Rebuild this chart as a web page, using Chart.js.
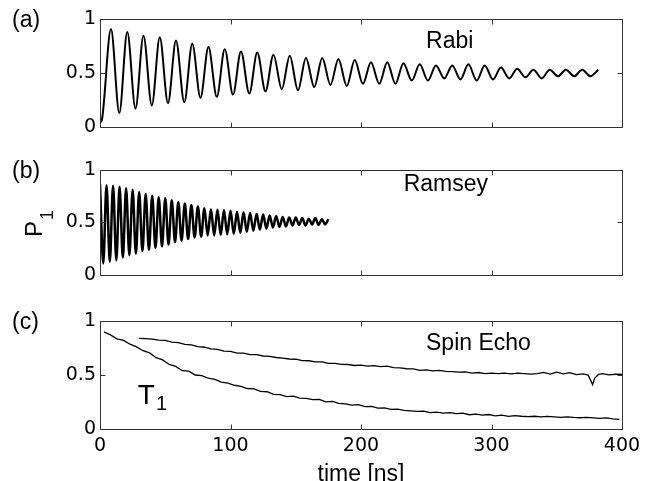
<!DOCTYPE html>
<html>
<head>
<meta charset="utf-8">
<script src="https://cdn.jsdelivr.net/npm/chart.js@4.4.1/dist/chart.umd.min.js"></script>
<style>
  body { margin: 0; background: #fff; }
  canvas { position: absolute; left: 0; }
</style>
</head>
<body>
<canvas id="rabi" width="652" height="145" style="top:0px"></canvas>
<canvas id="ramsey" width="652" height="140" style="top:150px"></canvas>
<canvas id="decay" width="652" height="191" style="top:290px"></canvas>
<script>
// axis ticks shared by the three panels
var xTicks = [0, 100, 200, 300, 400];
var yTicks = [0, 0.5, 1];

// (a) Rabi: start, then alternating maxima / minima
var rabiTime = [0, 1.5, 8.4, 14.8, 20.9, 27.2, 33.3, 39.7, 45.8, 52.1, 58.2, 64.6, 70.7, 77.0, 83.1, 89.5,
  95.6, 101.9, 108.0, 114.4, 120.5, 126.8, 132.9, 139.3, 145.4, 151.7, 157.8, 164.2, 170.3, 176.6, 182.7,
  189.1, 195.2, 201.5, 207.6, 214.0, 220.1, 226.4, 232.5, 238.9, 245.0, 251.3, 257.4, 263.8, 269.9, 276.2,
  282.3, 288.7, 294.8, 301.1, 307.2, 313.6, 319.7, 326.0, 332.1, 338.5, 344.6, 350.9, 357.0, 363.4, 369.5,
  375.8, 381.9];
var rabiP1 = [0.04, 0.07, 0.907, 0.13, 0.88, 0.17, 0.845, 0.20, 0.83, 0.22, 0.80, 0.23, 0.77, 0.27, 0.74, 0.28,
  0.72, 0.30, 0.70, 0.31, 0.69, 0.33, 0.67, 0.35, 0.66, 0.34, 0.64, 0.37, 0.64, 0.39, 0.63, 0.38, 0.62, 0.40,
  0.60, 0.40, 0.60, 0.40, 0.59, 0.43, 0.58, 0.43, 0.57, 0.45, 0.57, 0.44, 0.58, 0.43, 0.57, 0.44, 0.55, 0.45,
  0.54, 0.46, 0.53, 0.45, 0.53, 0.47, 0.53, 0.47, 0.53, 0.47, 0.53];

// (b) Ramsey fringes
var ramseyTime = [0, 2.5, 5, 7.5, 10, 12.5, 15, 17.5, 20, 22.5, 25, 27.5, 30, 32.5, 35, 37.5, 40, 42.5, 45, 47.5,
  50, 52.5, 55, 57.5, 60, 62.5, 65, 67.5, 70, 72.5, 75, 77.5, 80, 82.5, 85, 87.5, 90, 92.5, 95, 97.5, 100,
  102.5, 105, 107.5, 110, 112.5, 115, 117.5, 120, 122.5, 125, 127.5, 130, 132.5, 135, 137.5, 140, 142.5, 145,
  147.5, 150, 152.5, 155, 157.5, 160, 162.5, 165, 167.5, 170, 172.5, 175];
var ramseyP1 = [0.864, 0.107, 0.855, 0.123, 0.85, 0.138, 0.84, 0.163, 0.825, 0.185, 0.81, 0.20, 0.79, 0.225,
  0.77, 0.237, 0.755, 0.256, 0.74, 0.27, 0.73, 0.287, 0.71, 0.31, 0.695, 0.323, 0.68, 0.34, 0.665, 0.355,
  0.65, 0.365, 0.635, 0.375, 0.625, 0.375, 0.62, 0.38, 0.615, 0.385, 0.61, 0.39, 0.60, 0.40, 0.595, 0.41,
  0.59, 0.42, 0.58, 0.43, 0.575, 0.44, 0.565, 0.45, 0.56, 0.455, 0.55, 0.46, 0.545, 0.47, 0.545, 0.475,
  0.54, 0.47, 0.535, 0.48, 0.54, 0.475, 0.53, 0.48, 0.53];

// (c) T1 decay
var t1Time = [3, 8, 13, 18, 23, 28, 33, 38, 43, 48, 53, 58, 63, 68, 73, 78, 83, 88, 93, 98, 103, 108, 113, 118,
  123, 128, 133, 138, 143, 148, 153, 158, 163, 168, 173, 178, 183, 188, 193, 198, 203, 208, 213, 218, 223,
  228, 233, 238, 243, 248, 253, 258, 263, 268, 273, 278, 283, 288, 293, 298, 303, 308, 313, 318, 323, 328,
  333, 338, 343, 348, 353, 358, 363, 368, 373, 378, 383, 388, 393, 398];
var t1P1 = [0.90, 0.872, 0.835, 0.82, 0.785, 0.76, 0.725, 0.705, 0.66, 0.64,
  0.598, 0.58, 0.54, 0.535, 0.50, 0.495, 0.47, 0.46, 0.435, 0.425,
  0.405, 0.395, 0.375, 0.372, 0.348, 0.345, 0.32, 0.318, 0.30, 0.305,
  0.285, 0.283, 0.272, 0.274, 0.252, 0.255, 0.238, 0.233, 0.222, 0.226,
  0.208, 0.21, 0.193, 0.195, 0.182, 0.184, 0.172, 0.168, 0.163, 0.166,
  0.152, 0.156, 0.147, 0.152, 0.143, 0.146, 0.132, 0.138, 0.128, 0.134,
  0.122, 0.128, 0.117, 0.124, 0.118, 0.114, 0.118, 0.112, 0.117, 0.113,
  0.108, 0.113, 0.107, 0.104, 0.108, 0.103, 0.098, 0.103, 0.094, 0.09];

// (c) spin echo
var echoTime = [30, 35, 40, 45, 50, 55, 60, 65, 70, 75, 80, 85, 90, 95, 100, 105, 110, 115, 120, 125, 130,
  135, 140, 145, 150, 155, 160, 165, 170, 175, 180, 185, 190, 195, 200, 205, 210, 215, 220, 225, 230, 235,
  240, 245, 250, 255, 260, 265, 270, 275, 280, 285, 290, 295, 300, 305, 310, 315, 320, 325, 330, 335, 340,
  345, 350, 355, 360, 365, 370, 374, 376, 377.5, 379, 382, 385, 390, 395, 400];
var echoP1 = [0.84, 0.836, 0.832, 0.822, 0.82, 0.805, 0.80, 0.783, 0.778, 0.762, 0.757, 0.742, 0.738, 0.722,
  0.718, 0.703, 0.702, 0.688, 0.689, 0.676, 0.672, 0.662, 0.657, 0.648, 0.646, 0.633, 0.632, 0.622, 0.622,
  0.608, 0.607, 0.598, 0.597, 0.588, 0.592, 0.582, 0.587, 0.578, 0.582, 0.568, 0.566, 0.558, 0.557, 0.543,
  0.548, 0.538, 0.542, 0.533, 0.532, 0.527, 0.528, 0.518, 0.523, 0.513, 0.518, 0.512, 0.518, 0.51, 0.517,
  0.512, 0.508, 0.512, 0.524, 0.508, 0.526, 0.51, 0.522, 0.503, 0.51, 0.50, 0.45, 0.41, 0.47, 0.505, 0.512,
  0.502, 0.507, 0.505];

var FONT = '"Liberation Sans", Arial, sans-serif';
var TICKFONT = '"DejaVu Sans"';

function pairs(xs, ys) {
  return xs.map(function(x, i) { return {x: x, y: ys[i]}; });
}

function line(xs, ys, width, smooth) {
  return {
    data: pairs(xs, ys),
    showLine: true,
    pointRadius: 0,
    borderColor: '#000',
    borderWidth: width,
    cubicInterpolationMode: smooth ? 'monotone' : 'default',
    tension: 0
  };
}

// box, inward ticks and the text inside each panel
var framePlugin = {
  id: 'frame',
  afterDraw: function(chart, args, opts) {
    var ctx = chart.ctx, a = chart.chartArea, x = chart.scales.x, y = chart.scales.y;
    var L = Math.round(a.left) + 0.5, R = Math.round(a.right) + 0.5;
    var T = Math.round(a.top) + 0.5, B = Math.round(a.bottom) + 0.5;
    ctx.save();
    ctx.strokeStyle = '#333';
    ctx.lineWidth = 1;
    ctx.beginPath();
    ctx.rect(L, T, R - L, B - T);
    xTicks.forEach(function(v) {
      var px = Math.round(x.getPixelForValue(v)) + 0.5;
      ctx.moveTo(px, T); ctx.lineTo(px, T + 5);
      ctx.moveTo(px, B); ctx.lineTo(px, B - 5);
    });
    yTicks.forEach(function(v) {
      var py = Math.round(y.getPixelForValue(v)) + 0.5;
      ctx.moveTo(L, py); ctx.lineTo(L + 5, py);
      ctx.moveTo(R, py); ctx.lineTo(R - 5, py);
    });
    ctx.stroke();

    ctx.fillStyle = '#000';
    ctx.textAlign = 'left';
    ctx.textBaseline = 'alphabetic';
    ctx.font = '23px ' + FONT;
    ctx.fillText(opts.tag, 12, a.top + 8);

    (opts.notes || []).forEach(function(n) {
      var px = x.getPixelForValue(n.x), py = y.getPixelForValue(n.y);
      ctx.font = n.size + 'px ' + FONT;
      ctx.textAlign = n.align || 'center';
      ctx.fillText(n.text, px, py);
      if (n.sub) {
        var w = ctx.measureText(n.text).width;
        ctx.font = n.subSize + 'px ' + FONT;
        ctx.textAlign = 'left';
        ctx.fillText(n.sub, px + w + 1, py + n.subDrop);
      }
    });

    if (opts.ylabel) {
      ctx.translate(42, a.top + 67);
      ctx.rotate(-Math.PI / 2);
      ctx.textAlign = 'left';
      ctx.font = '24px ' + FONT;
      ctx.fillText('P', 0, 0);
      var pw = ctx.measureText('P').width;
      ctx.font = '18px ' + FONT;
      ctx.fillText('1', pw + 1, 11);
    }
    ctx.restore();
  }
};

function panel(id, datasets, padding, xAxis, frame) {
  return new Chart(document.getElementById(id), {
    type: 'scatter',
    data: {datasets: datasets},
    options: {
      responsive: false,
      animation: false,
      events: [],
      layout: {padding: padding},
      plugins: {legend: {display: false}, tooltip: {enabled: false}, frame: frame},
      scales: {
        x: xAxis,
        y: {
          min: 0, max: 1,
          afterFit: function(s) { s.width = 100; },
          grid: {display: false, drawTicks: false},
          border: {display: false},
          ticks: {
            stepSize: 0.5, padding: 4, color: '#000', font: {family: TICKFONT, size: 19},
            callback: function(v) { return String(v); }
          }
        }
      }
    },
    plugins: [framePlugin]
  });
}

var hiddenX = {type: 'linear', min: 0, max: 400, display: false};

panel('rabi', [line(rabiTime, rabiP1, 2, true)],
  {top: 19, bottom: 18, left: 0, right: 30}, hiddenX,
  {tag: '(a)', notes: [{text: 'Rabi', x: 268, y: 0.73, size: 23}]});

panel('ramsey', [line(ramseyTime, ramseyP1, 2.5, true)],
  {top: 20, bottom: 12, left: 0, right: 30}, hiddenX,
  {tag: '(b)', ylabel: true, notes: [{text: 'Ramsey', x: 265, y: 0.80, size: 23}]});

panel('decay', [line(t1Time, t1P1, 1.3, false), line(echoTime, echoP1, 1.3, false)],
  {top: 31, bottom: 0, left: 0, right: 30},
  {
    type: 'linear', min: 0, max: 400,
    afterFit: function(s) { s.height = 52; },
    grid: {display: false, drawTicks: false},
    border: {display: false},
    ticks: {stepSize: 100, padding: 6, maxRotation: 0, color: '#000', font: {family: TICKFONT, size: 19}},
    title: {display: true, text: 'time [ns]', color: '#000',
      font: {family: 'Liberation Sans', size: 23, lineHeight: 1}, padding: {top: 0, bottom: -5}}
  },
  {tag: '(c)', notes: [
    {text: 'Spin Echo', x: 290, y: 0.73, size: 23},
    {text: 'T', sub: '1', x: 29, y: 0.23, size: 28, subSize: 20, subDrop: 6, align: 'left'}
  ]});
</script>
</body>
</html>
